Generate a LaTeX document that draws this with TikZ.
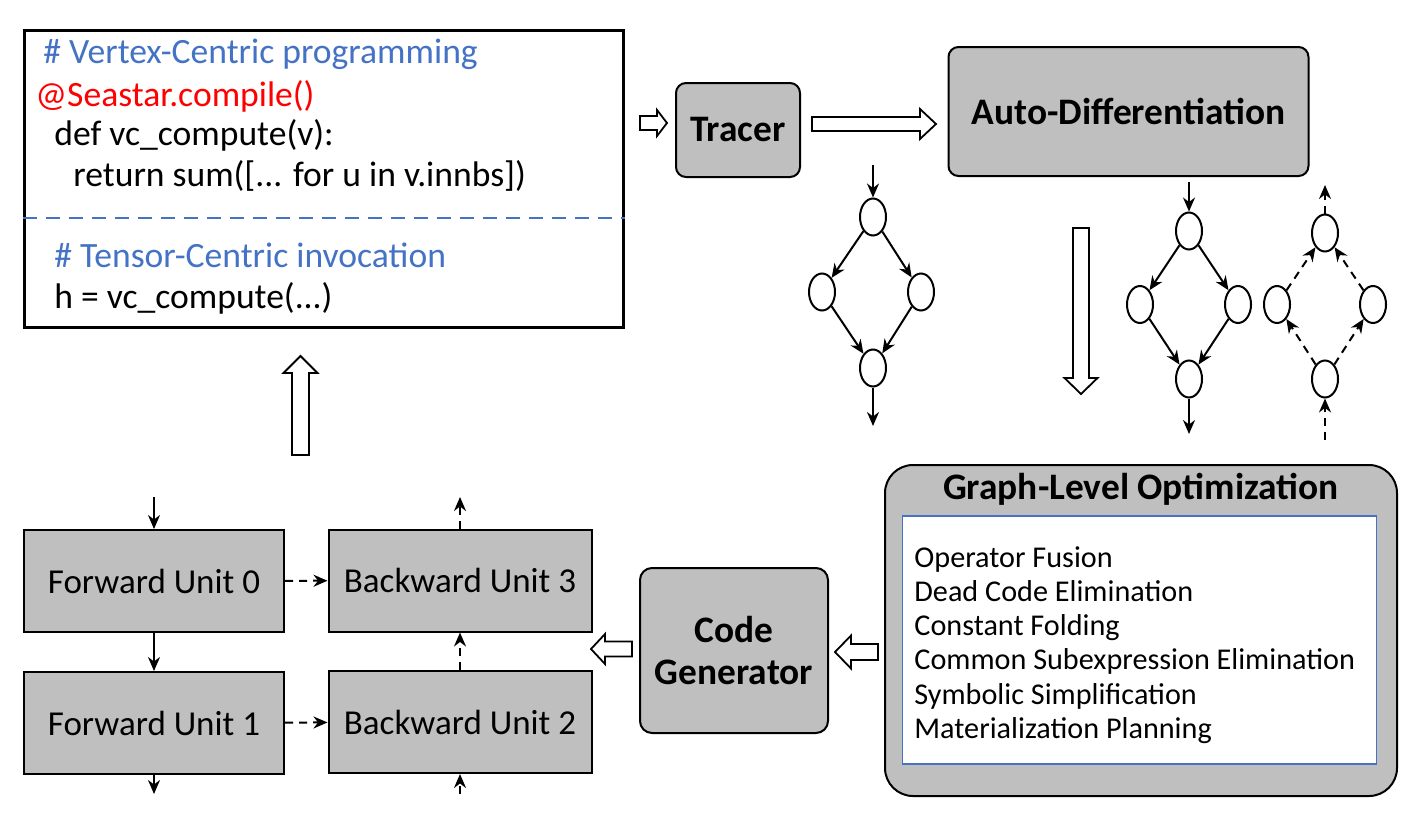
\documentclass[tikz,border=0pt]{standalone}
\usepackage{fontspec}
\setmainfont{Carlito}
\usetikzlibrary{positioning,arrows.meta,shapes.geometric}
\definecolor{boxgray}{RGB}{191,191,191}
\definecolor{cmtblue}{RGB}{68,114,196}
% hollow block arrow: tail, angle, length, shaft, head width, head length
\newcommand{\blockarrow}[6]{%
  \draw[hollow,shift={#1},rotate=#2] (0,-#4/2) -- (#3-#6,-#4/2) -- (#3-#6,-#5/2) -- (#3,0)
    -- (#3-#6,#5/2) -- (#3-#6,#4/2) -- (0,#4/2) -- cycle;}
\begin{document}
\begin{tikzpicture}[x=0.5pt,y=-0.5pt,
  every node/.style={inner sep=0pt},
  unit/.style={draw, line width=1pt, fill=boxgray, minimum width=130pt, minimum height=51pt, font=\fontsize{17.5}{21}\selectfont},
  stage/.style={draw, line width=1pt, fill=boxgray, rounded corners=5pt, align=center, font=\bfseries\fontsize{18.7}{21}\selectfont},
  code/.style={anchor=base west, font=\fontsize{17.8}{21}\selectfont},
  item/.style={anchor=base west, font=\fontsize{15.1}{18}\selectfont},
  op/.style={draw, ellipse, line width=1pt, minimum width=13pt, minimum height=18.5pt},
  flow/.style={-{Stealth[length=7pt,width=6pt]}, line width=1pt},
  back/.style={flow, dash pattern=on 4pt off 3pt},
  hollow/.style={draw, fill=white, line width=0.9pt}]

  \useasboundingbox (0,0) rectangle (1408,825);

  % code box
  \node[draw, line width=1.5pt, minimum width=299.5pt, minimum height=148.5pt] (codebox) at (323.5,178.5) {};
  \draw[cmtblue, line width=1.4pt, dash pattern=on 7pt off 4.5pt] (codebox.west |- 0,218) -- (codebox.east |- 0,218);
  \node[code, text=cmtblue] (vc) at (43,63) {\# Vertex-Centric programming};
  \node[code, text=red] (deco) at (35,106) {@Seastar.compile()};
  \node[code] (def) at (54,145) {def vc\_compute(v):};
  \node[code] (ret) at (73,186) {return sum([... for u in v.innbs])};
  \node[code, text=cmtblue] (tc) at (54,267) {\# Tensor-Centric invocation};
  \node[code] (call) at (54,308.5) {h = vc\_compute(...)};

  % stages
  \node[stage, minimum width=62pt, minimum height=47pt] (tracer) at (738,130) {Tracer};
  \node[stage, minimum width=180pt, minimum height=64.5pt] (autodiff) at (1128.5,111.5) {Auto-Differentiation};
  \node[stage, minimum width=94pt, minimum height=82.5pt, rounded corners=6pt] (codegen) at (734,650.5) {Code\\Generator};
  \node[stage, minimum width=256pt, minimum height=165.5pt, rounded corners=14pt] (glo) at (1141,630.5) {};
  \node[font=\bfseries\fontsize{18.7}{21}\selectfont] (glotitle) at (1141,489) {Graph-Level Optimization};
  \node[draw=cmtblue, fill=white, line width=0.8pt, minimum width=237pt, minimum height=124pt] (optbox) at (1139.5,640) {};
  \foreach \t [count=\i] in {Operator Fusion, Dead Code Elimination, Constant Folding,
      Common Subexpression Elimination, Symbolic Simplification, Materialization Planning}
    \node[item] (opt\i) at (914,{567+34.3*(\i-1)}) {\t};

  % block arrows
  \blockarrow{(640,123)}{0}{27}{14}{26}{10}
  \blockarrow{(812,124)}{0}{124}{14}{30}{16}
  \blockarrow{(1081,228)}{-90}{166}{16}{33}{16}
  \blockarrow{(878,652)}{180}{43}{16}{33}{16}
  \blockarrow{(632,649)}{180}{41}{15}{30}{14}
  \blockarrow{(300.5,455)}{90}{99}{17}{34}{17}

  % forward graph
  \node[op] (t1) at (873,217) {};
  \node[op] (l1) at (822,292) {};
  \node[op] (r1) at (921,292) {};
  \node[op] (b1) at (873,368) {};
  \coordinate (t1in) at (873,165);
  \coordinate (b1out) at (873,426);
  \draw[flow] (t1in) -- (t1);
  \draw[flow] (t1) -- (l1);
  \draw[flow] (t1) -- (r1);
  \draw[flow] (l1) -- (b1);
  \draw[flow] (r1) -- (b1);
  \draw[flow] (b1) -- (b1out);

  % forward graph after autodiff
  \node[op] (t2) at (1189,231) {};
  \node[op] (l2) at (1140,304.5) {};
  \node[op] (r2) at (1238,304.5) {};
  \node[op] (b2) at (1189,379) {};
  \coordinate (t2in) at (1189,182);
  \coordinate (b2out) at (1189,434);
  \draw[flow] (t2in) -- (t2);
  \draw[flow] (t2) -- (l2);
  \draw[flow] (t2) -- (r2);
  \draw[flow] (l2) -- (b2);
  \draw[flow] (r2) -- (b2);
  \draw[flow] (b2) -- (b2out);

  % backward graph
  \node[op] (t3) at (1325,233) {};
  \node[op] (l3) at (1277,304.5) {};
  \node[op] (r3) at (1373,304.5) {};
  \node[op] (b3) at (1325,379) {};
  \coordinate (b3in) at (1325,440);
  \coordinate (t3out) at (1325,185);
  \draw[back] (b3in) -- (b3);
  \draw[back] (b3) -- (l3);
  \draw[back] (b3) -- (r3);
  \draw[back] (l3) -- (t3);
  \draw[back] (r3) -- (t3);
  \draw[back] (t3) -- (t3out);

  % units
  \node[unit] (fu0) at (154,581) {Forward Unit 0};
  \node[unit] (fu1) at (154,723) {Forward Unit 1};
  \node[unit, minimum width=131.5pt] (bu3) at (460,580.5) {Backward Unit 3};
  \node[unit, minimum width=131.5pt] (bu2) at (460,722) {Backward Unit 2};
  \coordinate (fuin) at (154,497);
  \coordinate (fuout) at (154,794);
  \coordinate (buin) at (460,794);
  \coordinate (buout) at (460,497);
  \draw[flow] (fuin) -- (fu0);
  \draw[flow] (fu0) -- (fu1);
  \draw[flow] (fu1) -- (fuout);
  \draw[back] (fu0) -- (bu3);
  \draw[back] (fu1) -- (bu2);
  \draw[back] (buin) -- (bu2);
  \draw[back] (bu2) -- (bu3);
  \draw[back] (bu3) -- (buout);
\end{tikzpicture}
\end{document}
